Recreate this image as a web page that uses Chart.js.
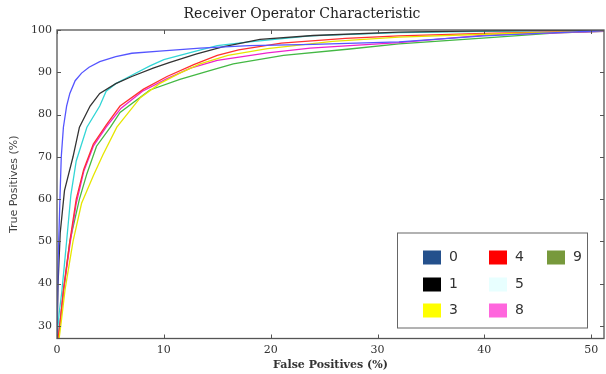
<!DOCTYPE html>
<html>
<head>
<meta charset="utf-8">
<script src="https://cdn.jsdelivr.net/npm/chart.js@4/dist/chart.umd.min.js"></script>
<style>
  html, body { margin: 0; padding: 0; background: #fff; }
  #wrap { width: 606px; height: 374px; }
</style>
</head>
<body>
<div id="wrap"><canvas id="roc" width="606" height="374"></canvas></div>
<script>
// ROC curves per digit class, [false positive %, true positive %]
const roc0 = [[0,27],[0.1,45],[0.3,62],[0.4,70],[0.6,77],[0.9,82],[1.2,85],[1.7,88],[2.3,89.8],[3,91.2],[4,92.5],[5.5,93.7],[7,94.5],[9.6,95],[13.4,95.7],[18,96.3],[24,96.6],[32,97.2],[40,98.6],[45,99.2],[50,99.7],[51.2,99.8]];
const roc1 = [[0,27],[0.1,40],[0.3,52],[0.7,62],[1.1,66],[1.5,70],[2.1,77],[3.1,82],[4,85],[5.5,87.3],[7,89],[9,91],[10.5,92.3],[13,94.3],[15.5,96],[19,97.8],[24,98.7],[32,99.5],[40,99.8],[51.2,100]];
const roc3 = [[0.2,27],[0.4,31],[0.75,38.5],[1.5,50],[2.3,59],[3.4,65.5],[4.3,70.5],[5.6,77],[7.8,84],[9.6,87.3],[11.5,89.8],[13.4,92],[16,94],[19.7,95.6],[25.8,97.3],[32,98.3],[40,99],[51.2,99.8]];
const roc4 = [[0.1,27],[0.3,31],[0.6,38.5],[1.2,50],[1.8,60],[2.5,67],[3.4,73],[4.6,77.5],[5.9,82],[8.1,86],[10.3,89],[12.8,91.8],[15,94],[17,95.3],[21,96.9],[27,98],[32,98.6],[40,99.2],[51.2,99.8]];
const roc5 = [[0,27],[0.2,33],[0.45,38],[0.9,50],[1.3,61],[1.8,69],[2.8,77],[4,82],[4.6,85.5],[5.5,87.3],[7,89.3],[8.7,91.5],[10,93],[13,95],[15,96.3],[18,97.2],[23.7,98.6],[32,99.4],[40,99.7],[51.2,100]];
const roc8 = [[0.1,27],[0.3,31],[0.6,38],[1.2,49],[1.8,59],[2.5,66.5],[3.4,72.5],[4.6,77],[6,81.5],[8,85.5],[10.3,88.5],[12.5,91],[15,92.8],[19.7,94.6],[23.7,95.7],[27.4,96.3],[32,97],[40,98.8],[51.2,99.7]];
const roc9 = [[0.1,27],[0.3,31],[0.6,38],[1.2,50],[2.1,60],[2.8,66],[3.7,72.5],[5,77],[5.9,80.5],[8.7,85.8],[11.5,88.3],[14.3,90.4],[16.5,92],[21.2,94],[27.4,95.5],[32,96.7],[40.5,98.2],[46.8,99.3],[51.2,99.7]];

const classNames = ['0', '1', '3', '4', '5', '8', '9'];
const curves = [roc0, roc1, roc3, roc4, roc5, roc8, roc9];
const lineColors = ['#5555ff', '#333333', '#e6e600', '#ff3030', '#33d6d6', '#ee22cc', '#44b844'];
// legend swatches use a different palette than the lines, as in the source figure
const legendColors = ['#24508c', '#000000', '#ffff00', '#ff0000', '#e8ffff', '#ff66dd', '#77993c'];

const xTicks = [0, 10, 20, 30, 40, 50];
const yTicks = [30, 40, 50, 60, 70, 80, 90, 100];

const SERIF = '"DejaVu Serif", serif';
const SANS = '"DejaVu Sans", sans-serif';

// frame with inward tick marks on all four sides, plus the boxed legend
const framePlugin = {
  id: 'frame',
  afterDraw(chart) {
    const { ctx, chartArea: a, scales } = chart;
    ctx.save();
    ctx.strokeStyle = '#555';
    ctx.lineWidth = 1.3;
    ctx.strokeRect(a.left, a.top, a.right - a.left, a.bottom - a.top);

    ctx.lineWidth = 1;
    ctx.beginPath();
    xTicks.forEach(v => {
      const px = Math.round(scales.x.getPixelForValue(v)) + 0.5;
      ctx.moveTo(px, a.bottom); ctx.lineTo(px, a.bottom - 4);
      ctx.moveTo(px, a.top); ctx.lineTo(px, a.top + 4);
    });
    yTicks.forEach(v => {
      const py = Math.round(scales.y.getPixelForValue(v)) + 0.5;
      ctx.moveTo(a.left, py); ctx.lineTo(a.left + 4, py);
      ctx.moveTo(a.right, py); ctx.lineTo(a.right - 4, py);
    });
    ctx.stroke();

    // legend box
    const boxL = a.right - 207, boxT = a.bottom - 106, boxW = 190, boxH = 95;
    ctx.fillStyle = '#fff';
    ctx.fillRect(boxL, boxT, boxW, boxH);
    ctx.strokeStyle = '#666';
    ctx.lineWidth = 1;
    ctx.strokeRect(boxL + 0.5, boxT + 0.5, boxW, boxH);

    const colX = [26, 92, 150];
    const rowY = [25, 52, 78];
    ctx.font = '14px ' + SANS;
    ctx.textBaseline = 'middle';
    ctx.textAlign = 'left';
    classNames.forEach((name, i) => {
      const c = Math.floor(i / 3), r = i % 3;
      const sx = boxL + colX[c], sy = boxT + rowY[r];
      ctx.fillStyle = legendColors[i];
      ctx.fillRect(sx, sy - 7, 18, 14);
      ctx.fillStyle = '#333';
      ctx.fillText(name, sx + 26, sy);
    });
    ctx.restore();
  }
};

new Chart(document.getElementById('roc'), {
  type: 'line',
  data: {
    datasets: curves.map((pts, i) => ({
      label: classNames[i],
      data: pts,
      borderColor: lineColors[i],
      backgroundColor: lineColors[i],
      borderWidth: 1.3,
      pointRadius: 0,
      tension: 0,
      fill: false
    }))
  },
  options: {
    responsive: false,
    animation: false,
    layout: { padding: { left: 0, right: 2, top: 0, bottom: 0 } },
    plugins: {
      legend: { display: false },
      tooltip: { enabled: false },
      title: {
        display: true,
        text: 'Receiver Operator Characteristic',
        color: '#222',
        font: { family: SERIF, size: 14, weight: 'normal', lineHeight: 1.2 },
        padding: { top: 5.6, bottom: 7.6 }
      }
    },
    scales: {
      x: {
        type: 'linear',
        min: 0,
        max: 51.2,
        afterBuildTicks: s => { s.ticks = xTicks.map(v => ({ value: v })); },
        afterFit: s => { s.height = 35.5; },
        grid: { display: false, drawTicks: false },
        border: { display: false },
        ticks: { color: '#333', padding: 5, font: { family: SERIF, size: 11 } },
        title: {
          display: true,
          text: 'False Positives (%)',
          color: '#333',
          font: { family: SERIF, size: 11, weight: 'bold' },
          padding: { top: 2, bottom: 2 }
        }
      },
      y: {
        type: 'linear',
        min: 27,
        max: 100,
        afterBuildTicks: s => { s.ticks = yTicks.map(v => ({ value: v })); },
        afterFit: s => { s.width = 57; },
        grid: { display: false, drawTicks: false },
        border: { display: false },
        ticks: { color: '#333', padding: 5, font: { family: SERIF, size: 11 } },
        title: {
          display: true,
          text: 'True Positives (%)',
          color: '#444',
          font: { family: SANS, size: 11 },
          padding: { top: 8, bottom: 0 }
        }
      }
    }
  },
  plugins: [framePlugin]
});
</script>
</body>
</html>
